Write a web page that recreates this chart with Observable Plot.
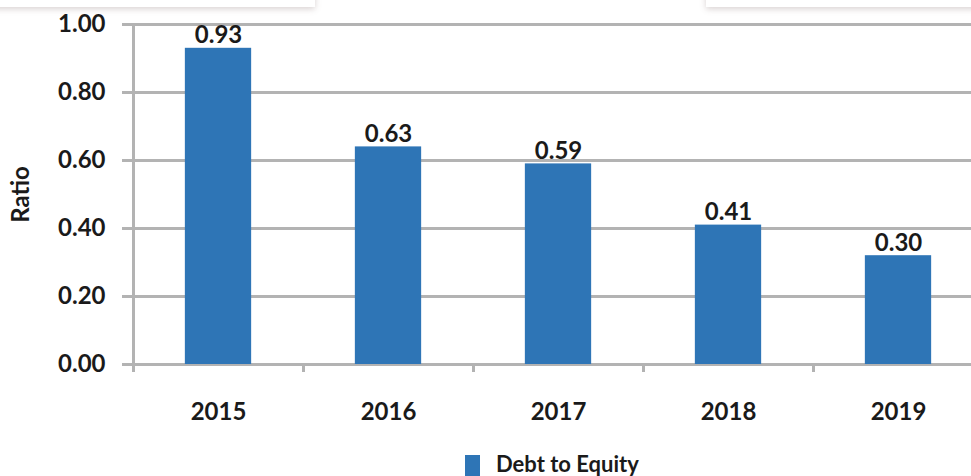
<!DOCTYPE html>
<html>
<head>
<meta charset="utf-8">
<script src="https://cdn.jsdelivr.net/npm/d3@7"></script>
<script src="https://cdn.jsdelivr.net/npm/@observablehq/plot@0.6"></script>
<style>
  html, body { margin: 0; padding: 0; background: #fff; overflow: hidden; }
  body { width: 971px; height: 476px; position: relative; font-family: Lato, "Open Sans", sans-serif; }
  #chart { position: absolute; left: 0; top: 0; }
  .shade { position: absolute; background: #fff; box-shadow: 0 2px 6px rgba(120, 95, 95, 0.28); }
  #legend { position: absolute; left: 465px; top: 455px; display: flex; align-items: flex-start; font-weight: 700; font-size: 22px; color: #1a1a1a; }
  #legend .sw { width: 15px; height: 21px; background: #2e75b6; margin-right: 16px; }
  #legend .lb { line-height: 1; margin-top: -2px; }
</style>
</head>
<body>
<div class="shade" style="left:-10px; top:-20px; width:325px; height:27px;"></div>
<div class="shade" style="left:706px; top:-20px; width:280px; height:27px;"></div>
<div id="chart"></div>
<div id="legend"><div class="sw"></div><div class="lb">Debt to Equity</div></div>
<script>
const years = [2015, 2016, 2017, 2018, 2019];
const ratios = [0.93, 0.64, 0.59, 0.41, 0.32];
const valueLabels = ["0.93", "0.63", "0.59", "0.41", "0.30"];
const yTicks = [0, 0.2, 0.4, 0.6, 0.8, 1.0];
const seriesName = "Debt to Equity";
const axisTitle = "Ratio";

const data = years.map((y, i) => ({year: y, value: ratios[i], label: valueLabels[i]}));
const boundaries = [...years.map(y => y - 0.5), years[years.length - 1] + 0.5];
const half = 0.195;
const grey = "#b3b3b3";
const blue = "#2e75b6";
const ink = "#1a1a1a";
const font = "Lato, 'Open Sans', sans-serif";

const chart = Plot.plot({
  width: 971,
  height: 440,
  marginTop: 24,
  marginLeft: 133,
  marginRight: -12,
  marginBottom: 76,
  style: {fontFamily: font, fontWeight: "bold", color: ink, background: "transparent"},
  x: {type: "linear", domain: [boundaries[0], boundaries[boundaries.length - 1]]},
  y: {domain: [0, 1]},
  marks: [
    Plot.ruleY(yTicks, {y: d => d, stroke: grey, strokeWidth: 3}),
    Plot.ruleX([boundaries[0]], {x: d => d, y1: 0, y2: 1, stroke: grey, strokeWidth: 3}),
    Plot.axisY({ticks: yTicks, tickSize: 11, tickPadding: 17, stroke: grey, strokeWidth: 3,
      tickFormat: d3.format(".2f"), fontSize: 24, fill: ink,
      label: axisTitle, labelAnchor: "center", labelArrow: "none", labelOffset: 122}),
    Plot.axisX({ticks: boundaries, tickSize: 8, stroke: grey, strokeWidth: 3, tickFormat: () => "", label: null}),
    Plot.axisX({ticks: years, tickSize: 0, tickPadding: 38, tickFormat: d => String(d), fontSize: 24, fill: ink, label: null}),
    Plot.rectY(data, {x1: d => d.year - half, x2: d => d.year + half, y: "value", fill: blue}),
    Plot.text(data, {x: "year", y: "value", text: "label", dy: -5, lineAnchor: "bottom", fontSize: 24, fontWeight: "bold", fill: ink})
  ]
});
document.getElementById("chart").appendChild(chart);
</script>
</body>
</html>
